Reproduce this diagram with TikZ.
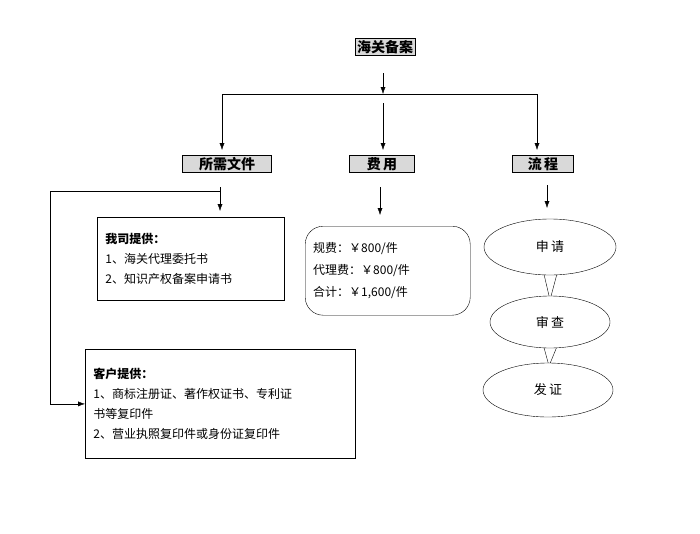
\documentclass[tikz,border=0pt]{standalone}
\usepackage{fontspec}
\newfontfamily\cjk{Noto Sans CJK SC}
\usetikzlibrary{arrows.meta,shapes.geometric}
\tikzset{
  head/.style={draw,thick,fill=gray!30,font=\cjk\bfseries\fontsize{14}{16}\selectfont,inner sep=2pt},
  textbox/.style={draw,thick,align=left,anchor=north west,font=\cjk\fontsize{12}{20}\selectfont,inner sep=8pt},
  bubble/.style={draw,ellipse,font=\cjk\fontsize{13}{15}\selectfont},
}
\begin{document}
\begin{tikzpicture}[x=1pt,y=-1pt,>={Latex[length=7pt,width=5pt]}]
    \useasboundingbox (0,0) rectangle (700,533);

    %%%%%%%%%%%%%%%%%%%%%%%%%%%%%%%%%%%%%%%%%%%%%%%%%%%%%%

    % top box
    \node[head] (beian) at (385,47) {海关备案};
    \coordinate (split) at (383,94);
    \coordinate (sl) at (222,94);
    \coordinate (sr) at (537,94);
    \draw[->] (383,73) to (split);
    \draw (sl) -- (sr);

    %%%%%%%%%%%%%%%%%%%%%%%%%%%%%%%%%%%%%%%%%%%%%%%%%%%%%%

    % second row
    \node[head,minimum width=89pt] (wenjian) at (227,164) {所需文件};
    \node[head,minimum width=65pt] (feiyong) at (382,164) {费\,用};
    \node[head,minimum width=61pt] (liucheng) at (543,164) {流\,程};
    \draw[->] (sl) to (222,150);
    \draw[->] (383,103) to (383,150);
    \draw[->] (sr) to (537,150);

    %%%%%%%%%%%%%%%%%%%%%%%%%%%%%%%%%%%%%%%%%%%%%%%%%%%%%%

    % documents
    \node[textbox,text width=171pt,minimum height=83pt] (wosi) at (97,217)
      {\textbf{我司提供：}\\1、海关代理委托书\\2、知识产权备案申请书};
    \node[textbox,text width=254pt,minimum height=109pt] (kehu) at (85,349)
      {\textbf{客户提供：}\\1、商标注册证、著作权证书、专利证\\书等复印件\\2、营业执照复印件或身份证复印件};
    \coordinate (fork) at (220,191);
    \coordinate (corner) at (50,191);
    \draw[->] (220,187) to (220,211);
    \draw (fork) -- (corner);
    \draw[->] (corner) |- (kehu.west);

    %%%%%%%%%%%%%%%%%%%%%%%%%%%%%%%%%%%%%%%%%%%%%%%%%%%%%%

    % fees
    \node[draw,rounded corners=18pt,align=left,anchor=north west,text width=149pt,minimum height=89pt,
      font=\cjk\fontsize{12}{22}\selectfont,inner sep=8pt] (fee) at (305,226)
      {规费：￥800/件\\代理费：￥800/件\\合计：￥1,600/件};
    \draw[->] (380,187) to (380,215);

    %%%%%%%%%%%%%%%%%%%%%%%%%%%%%%%%%%%%%%%%%%%%%%%%%%%%%%

    % process
    \draw (543,270) -- (550,300) -- (558,270);
    \draw (543,344) -- (549,366) -- (558,344);
    \node[bubble,fill=white,minimum width=132pt,minimum height=56pt] (shenqing) at (550,247) {申\,请};
    \node[bubble,fill=white,minimum width=120pt,minimum height=52pt] (shencha) at (550,322) {审\,查};
    \node[bubble,fill=white,minimum width=130pt,minimum height=54pt] (fazheng) at (548,390) {发\,证};
    \draw[->] (547,185) to (547,208);

\end{tikzpicture}
\end{document}
